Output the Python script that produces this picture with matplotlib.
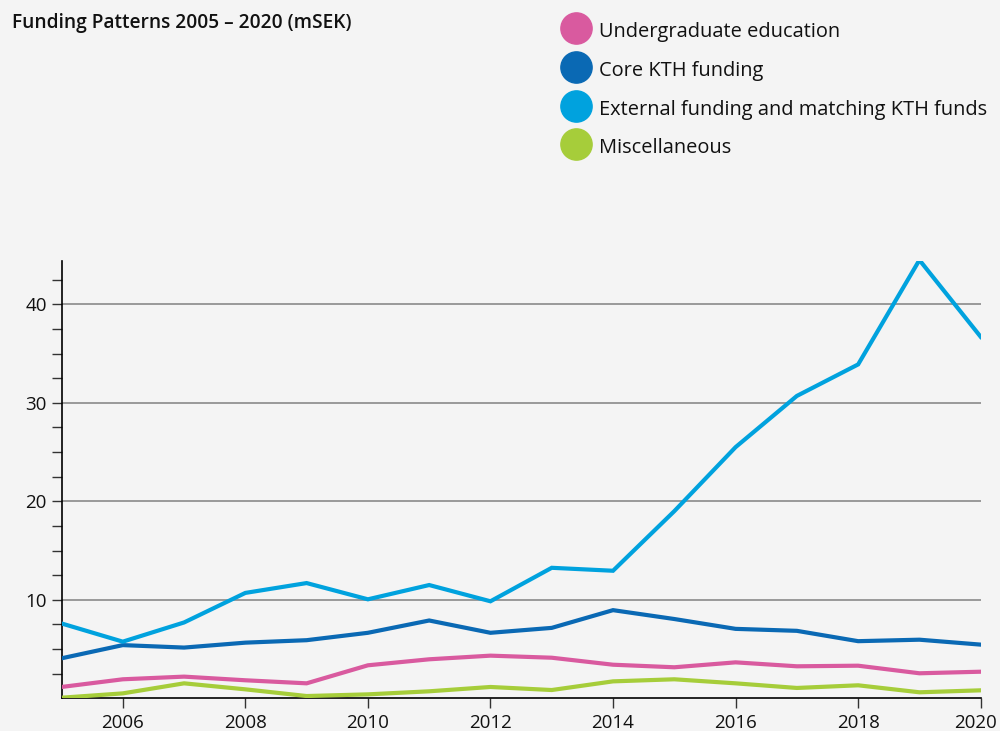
import numpy as np
import matplotlib
matplotlib.use("Agg")
import matplotlib.pyplot as plt
import matplotlib.transforms as mtransforms
from matplotlib.lines import Line2D
from matplotlib.ticker import FixedLocator

plt.rcParams['font.family'] = ['Open Sans', 'DejaVu Sans']

years = np.arange(2005, 2021)
undergrad = [1.15, 1.93, 2.2, 1.83, 1.52, 3.35, 3.96, 4.33, 4.12, 3.41, 3.15, 3.65, 3.25, 3.31, 2.54, 2.7]
core = [4.06, 5.4, 5.15, 5.65, 5.9, 6.65, 7.9, 6.65, 7.15, 8.95, 8.05, 7.05, 6.85, 5.8, 5.95, 5.45]
external = [7.6, 5.75, 7.7, 10.7, 11.7, 10.05, 11.5, 9.85, 13.25, 12.95, 19.0, 25.5, 30.7, 33.9, 44.5, 36.7]
misc = [0.06, 0.5, 1.52, 0.91, 0.23, 0.4, 0.71, 1.15, 0.84, 1.72, 1.93, 1.52, 1.05, 1.32, 0.61, 0.81]

labels = ["Undergraduate education", "Core KTH funding",
          "External funding and matching KTH funds", "Miscellaneous"]
colors = ["#d95a9f", "#0a69b4", "#00a2de", "#a6cd3a"]
series = [undergrad, core, external, misc]

bg = "#f4f4f4"
fig = plt.figure(figsize=(10, 7.31), dpi=100, facecolor=bg)
ax = fig.add_axes([0.0615, 32.7 / 731, 0.9192, 437.3 / 731])
ax.set_facecolor(bg)

for vals, c in zip(series, colors):
    ax.plot(years, vals, color=c, lw=3, solid_joinstyle='miter', zorder=3)

ax.set_xlim(2005, 2020)
ax.set_ylim(0, 44.4)
ax.xaxis.set_major_locator(FixedLocator(np.arange(2006, 2021, 2)))
ax.yaxis.set_major_locator(FixedLocator([10, 20, 30, 40]))
ax.yaxis.set_minor_locator(FixedLocator([v for v in np.arange(2.5, 44, 2.5) if v % 10 != 0]))
ax.grid(axis='y', which='major', color='#808080', lw=1.1, zorder=1)

for s in ['top', 'right']:
    ax.spines[s].set_visible(False)
for s in ['left', 'bottom']:
    ax.spines[s].set_color('black')
    ax.spines[s].set_linewidth(1.2)

ax.tick_params(axis='both', which='both', direction='out', length=7.5, width=1.0,
               color='#333333', labelsize=13.5, labelcolor='#111111')
ax.tick_params(axis='y', which='both', pad=3)
ax.tick_params(axis='x', pad=4)

# keep the last year label inside the figure edge
fig.canvas.draw()
last = ax.get_xticklabels()[-1]
last.set_transform(last.get_transform() +
                   mtransforms.ScaledTranslation(-5 / 100, 0, fig.dpi_scale_trans))

# title
fig.text(0.0125, 1 - 28.3 / 731, "Funding Patterns 2005 – 2020 (mSEK)",
         fontsize=13.8, fontweight='semibold', va='baseline', color='#111111')

# legend
ys = [28.3, 66.7, 105.5, 144.0]
for lab, c, yp in zip(labels, colors, ys):
    fig.add_artist(Line2D([0.5757], [1 - yp / 731], marker='o', markersize=22.5,
                          color=c, lw=0, transform=fig.transFigure))
    fig.text(0.5993, 1 - (yp + 9) / 731, lab, fontsize=14.4, va='baseline',
             color='#111111')

fig.savefig("out.png", dpi=100, facecolor=bg)
